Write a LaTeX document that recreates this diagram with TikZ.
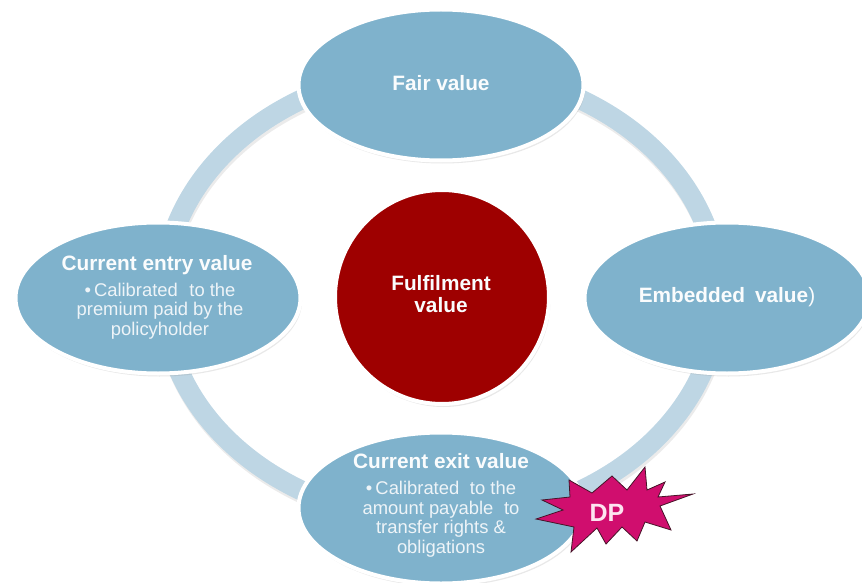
\documentclass[tikz,border=0pt]{standalone}
\usepackage{fontspec}
\setmainfont{Liberation Sans}
\usetikzlibrary{shapes.geometric,shadows}
\definecolor{ringc}{RGB}{190,214,228}
\definecolor{ellc}{RGB}{127,178,204}
\definecolor{redc}{RGB}{158,0,0}
\definecolor{starc}{RGB}{208,14,110}
\definecolor{starline}{RGB}{70,20,40}
\definecolor{txtc}{RGB}{250,252,253}
\definecolor{subc}{RGB}{238,244,248}
\definecolor{dptext}{RGB}{253,228,240}
\begin{document}
\begin{tikzpicture}[x=1pt,y=-1pt,
  blob/.style={ellipse, fill=ellc, draw=white, line width=4pt,
    minimum width=285pt, minimum height=151pt, inner sep=0pt,
    drop shadow={opacity=0.18, shadow xshift=1.5pt, shadow yshift=-3pt}},
  redball/.style={circle, fill=redc, draw=white, line width=4pt,
    minimum size=214pt, inner sep=0pt,
    drop shadow={opacity=0.18, shadow xshift=1.5pt, shadow yshift=-3pt}},
  title/.style={font=\bfseries\fontsize{20.8}{22}\selectfont, text=txtc,
    align=center, inner sep=0pt, anchor=base},
  subtext/.style={font=\fontsize{18.4}{19.5}\selectfont, text=subc,
    align=center, inner sep=0pt, anchor=base},
  ringline/.style={draw=ringc, line width=20pt},
  burst/.style={fill=starc, draw=starline, line width=0.8pt, line join=miter}
]
\useasboundingbox (0,0) rectangle (862,583);
% ring
\draw[black, opacity=0.08, line width=20pt] (442,298) ellipse [x radius=278, y radius=226];
\draw[ringline] (441,295) ellipse [x radius=278, y radius=226];
% ellipses
\node[blob] (fair) at (441,85) {};
\node[blob] (entry) at (158,298) {};
\node[blob] (embed) at (727,298) {};
\node[blob] (exit) at (441,508) {};
\node[redball] (fulfil) at (442,297) {};
% texts (base anchor = baseline of the last line)
\node[title] (fairT) at (441,91) {Fair value};
\node[title] (entryT) at (157,270) {Current entry value};
\node[subtext] (entryS) at (160,335) {\textbullet\,Calibrated\hspace{0.35em} to the\\premium paid by the\\policyholder};
\node[title] (fulT) at (441,312) {Fulfilment\\value};
\node[title] (embT) at (727,302) {Embedded\hspace{0.2em} value{\mdseries )}};
\node[title] (exitT) at (441,468) {Current exit value};
\node[subtext] (exitS) at (441,553) {\textbullet\,Calibrated\hspace{0.3em} to the\\amount payable\hspace{0.3em} to\\transfer rights \&\\obligations};
% starburst
\path[burst] (693,494) -- (660,506) -- (671,530) -- (645,522) -- (637,541)
  -- (622,527) -- (606,544) -- (597,528) -- (571,552) -- (574,527)
  -- (536,519) -- (563,510) -- (542,500) -- (570,497) -- (569,480)
  -- (592,493) -- (612,476) -- (627,490) -- (645,467) -- (647,490)
  -- (665,482) -- (658,497) -- cycle;
\node[font=\bfseries\fontsize{25}{25}\selectfont, text=dptext, inner sep=0pt, anchor=base] (dp) at (607,521) {DP};
\end{tikzpicture}
\end{document}
